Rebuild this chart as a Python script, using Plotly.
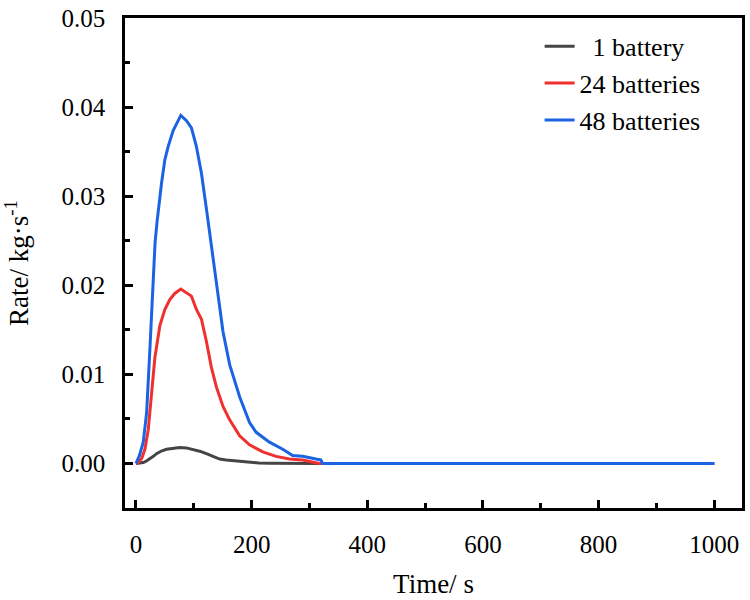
import plotly.graph_objects as go

# Time (s) and rate (kg/s)
t_1 = [0, 6, 12.6, 18, 24.1, 30, 35.6, 44, 52.8, 64, 75.8, 87, 98.8, 110, 121.8, 133, 144.7, 156,
       167.7, 180, 196.4, 212, 230.8, 265, 320, 1000]
r_1 = [0, 0.00002, 0.0001, 0.00028, 0.0005, 0.0008, 0.0011, 0.0014, 0.0016, 0.00172, 0.0018, 0.00175,
       0.0016, 0.00138, 0.0011, 0.0008, 0.0005, 0.00038, 0.0003, 0.0002, 0.0001, 0.00006, 0.00004, 0, 0, 0]

t_24 = [0, 4.0, 10, 15.5, 21.2, 26.9, 32.7, 41.3, 49.9, 58.5, 67.1, 77.5, 87.3, 95.9, 104.5, 113.2,
        121.8, 130.4, 139.0, 150.5, 162.0, 179.2, 196.4, 219.3, 242.3, 265.2, 288.2, 311.1, 316.8, 1000]
r_24 = [0, 0.0001, 0.0006, 0.0016, 0.0038, 0.0075, 0.0119, 0.0155, 0.0173, 0.0184, 0.0191, 0.0196,
        0.0192, 0.0188, 0.0173, 0.0162, 0.0137, 0.0108, 0.0086, 0.0064, 0.0049, 0.0031, 0.0021,
        0.0013, 0.0008, 0.0005, 0.0004, 0.0001, 0, 0]

t_48 = [0, 6, 12.6, 18.4, 24.1, 29.8, 33, 36.5, 40, 44.2, 49.9, 55.6, 64.3, 77.5, 87.3, 95.9, 104.5, 113.2,
        121.8, 130.4, 139.0, 150.5, 162.0, 179.2, 196.4, 207.9, 230.8, 253.8, 270.9, 288.2, 311.1,
        319.7, 322.6, 1000]
r_48 = [0, 0.0009, 0.0024, 0.0057, 0.0129, 0.0215, 0.0248, 0.0272, 0.0293, 0.0315, 0.0341, 0.0356,
        0.0374, 0.0391, 0.0385, 0.0377, 0.0356, 0.0326, 0.0286, 0.0243, 0.0199, 0.0148, 0.0111, 0.0075,
        0.0046, 0.0035, 0.0024, 0.0016, 0.0009, 0.0008, 0.0005, 0.0004, 0, 0]

series_names = ["\u20071 battery", "24 batteries", "48 batteries"]
series_colors = ["#454545", "#f0302f", "#1b63e3"]

x_ticks = [0, 200, 400, 600, 800, 1000]
y_ticks = [0.00, 0.01, 0.02, 0.03, 0.04, 0.05]

FONT = "Liberation Serif"

fig = go.Figure()
for xs, ys, name, col in zip([t_1, t_24, t_48], [r_1, r_24, r_48], series_names, series_colors):
    fig.add_trace(go.Scatter(x=xs, y=ys, mode="lines", name=name,
                             line=dict(color=col, width=3, shape="linear")))

axis_common = dict(
    showline=True, linecolor="black", linewidth=2.5, mirror=True,
    ticks="inside", ticklen=8, tickwidth=2.5, tickcolor="black",
    showgrid=False, zeroline=False,
    tickfont=dict(family=FONT, size=25, color="black"),
    ticklabeloverflow="allow",
)

fig.update_xaxes(
    range=[-19, 1048], tickvals=x_ticks,
    minor=dict(ticks="inside", ticklen=5, tickwidth=2.5, tickcolor="black", dtick=100, tick0=0, showgrid=False),
    title=dict(text="Time/ s", font=dict(family=FONT, size=27, color="black"), standoff=18),
    ticklabelstandoff=12,
    **axis_common,
)
fig.update_yaxes(
    range=[-0.005, 0.05004], tickvals=y_ticks, tickformat=".2f",
    minor=dict(ticks="inside", ticklen=5, tickwidth=2.5, tickcolor="black", dtick=0.005, tick0=0, showgrid=False),
    title=dict(text="Rate/ kg·s<sup>-1</sup>", font=dict(family=FONT, size=27, color="black"), standoff=28),
    ticklabelstandoff=12,
    **axis_common,
)

fig.update_layout(
    width=750, height=600,
    margin=dict(l=125, r=5, t=11, b=87),
    plot_bgcolor="white", paper_bgcolor="white",
    font=dict(family=FONT, size=25, color="black"),
    showlegend=True,
    legend=dict(x=0.672, y=0.99, xanchor="left", yanchor="top",
                font=dict(family=FONT, size=26, color="black"),
                bgcolor="rgba(0,0,0,0)", borderwidth=0, tracegroupgap=0),
)

fig.write_html("out.html")
